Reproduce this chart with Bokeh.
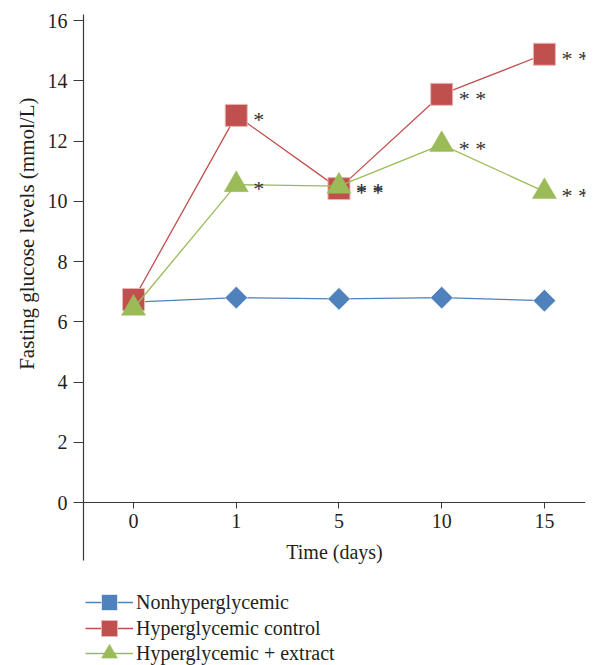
import math
from bokeh.plotting import figure
from bokeh.models import FixedTicker, Legend, LegendItem, ColumnDataSource, Title
from bokeh.embed import file_html
from bokeh.resources import INLINE

days = ["0", "1", "5", "10", "15"]
nonhyper = [6.65, 6.80, 6.76, 6.80, 6.70]
hyper_control = [6.74, 12.85, 10.42, 13.55, 14.88]
hyper_extract = [6.45, 10.55, 10.50, 11.88, 10.32]
control_sig = ["", "*", "* *", "* *", "* *"]
extract_sig = ["", "*", "* *", "* *", "* *"]
y_ticks = [0, 2, 4, 6, 8, 10, 12, 14, 16]
series_names = ["Nonhyperglycemic", "Hyperglycemic control", "Hyperglycemic + extract"]

FONT = "Liberation Serif"
TXT = "#231f20"
BLUE = "#4f81bd"
RED = "#c0504d"
GREEN = "#9bbb59"

xs = list(range(len(days)))

PX_PER_UNIT = 30.125
Y_TOP = 16.2
Y_BOTTOM = Y_TOP - (665 - 14) / PX_PER_UNIT
AXIS_LOW = -1.925

p = figure(width=598, height=665, output_backend="svg", toolbar_location=None,
           x_range=(-0.487, 4.40), y_range=(Y_BOTTOM, Y_TOP),
           min_border_left=83, min_border_right=13, min_border_top=14, min_border_bottom=0)
p.outline_line_color = None
p.xgrid.visible = False
p.ygrid.visible = False
p.background_fill_color = "white"
p.border_fill_color = "white"

# y axis
p.yaxis.ticker = FixedTicker(ticks=y_ticks)
p.yaxis.bounds = (AXIS_LOW, Y_TOP)
p.yaxis.major_label_text_font = FONT
p.yaxis.major_label_text_font_size = "20px"
p.yaxis.major_label_text_color = TXT
p.yaxis.major_label_standoff = 6
p.yaxis.major_tick_in = 0
p.yaxis.major_tick_out = 10
p.yaxis.minor_tick_in = 0
p.yaxis.minor_tick_out = 0
p.yaxis.axis_line_color = "#3a3a3a"
p.yaxis.major_tick_line_color = "#3a3a3a"
p.yaxis.axis_line_width = 1.2

ylab = Title(text="Fasting glucose levels (mmol/L)", align="right", offset=83,
             text_font=FONT, text_font_size="21px", text_font_style="normal",
             text_color=TXT, standoff=12)
p.add_layout(ylab, "left")

# x axis
p.xaxis.fixed_location = 0
p.xaxis.ticker = FixedTicker(ticks=xs)
p.xaxis.major_label_overrides = {i: d for i, d in zip(xs, days)}
p.xaxis.axis_label = "Time (days)"
p.xaxis.axis_label_text_font = FONT
p.xaxis.axis_label_text_font_style = "normal"
p.xaxis.axis_label_text_font_size = "20px"
p.xaxis.axis_label_text_color = TXT
p.xaxis.axis_label_standoff = 10
p.xaxis.major_label_text_font = FONT
p.xaxis.major_label_text_font_size = "20px"
p.xaxis.major_label_text_color = TXT
p.xaxis.major_tick_in = 0
p.xaxis.major_tick_out = 6
p.xaxis.minor_tick_out = 0
p.xaxis.axis_line_color = "#3a3a3a"
p.xaxis.major_tick_line_color = "#3a3a3a"
p.xaxis.axis_line_width = 1.2

src = ColumnDataSource(dict(x=xs, nonhyper=nonhyper, control=hyper_control, extract=hyper_extract,
                            csig=control_sig, esig=extract_sig))

l1 = p.line("x", "nonhyper", source=src, line_color=BLUE, line_width=1.3)
m1 = p.scatter("x", "nonhyper", source=src, marker="square", angle=math.pi / 4, size=16,
               fill_color=BLUE, line_color="white", line_width=0.6)
l2 = p.line("x", "control", source=src, line_color=RED, line_width=1.3)
m2 = p.scatter("x", "control", source=src, marker="square", size=22, fill_color=RED,
               line_color="#e8b5b4", line_width=1)
l3 = p.line("x", "extract", source=src, line_color=GREEN, line_width=1.3)
m3 = p.scatter("x", "extract", source=src, marker="triangle", size=24, fill_color=GREEN,
               line_color=GREEN, line_width=0.5)

p.text("x", "control", text="csig", source=src, x_offset=17, y_offset=4,
       text_font={"value": FONT}, text_font_size="22px", text_color="#333333",
       text_baseline="middle", text_align="left")
p.text("x", "extract", text="esig", source=src, x_offset=17, y_offset=4,
       text_font={"value": FONT}, text_font_size="22px", text_color="#333333",
       text_baseline="middle", text_align="left")

# one legend per row so the legend markers can be drawn large with tight rows
row_renderers = [[l1, m1], [l2, m2], [l3, m3]]
row_bottoms = [43, 17, -8]
for name, rends, yb in zip(series_names, row_renderers, row_bottoms):
    lg = Legend(items=[LegendItem(label=name, renderers=rends)], location=(2, yb))
    lg.label_text_font = FONT
    lg.label_text_font_size = "20px"
    lg.label_text_color = TXT
    lg.border_line_color = None
    lg.background_fill_alpha = 0
    lg.glyph_width = 48
    lg.glyph_height = 40
    lg.label_height = 20
    lg.spacing = 0
    lg.label_standoff = 3
    lg.padding = 0
    lg.margin = 0
    p.add_layout(lg, "center")

open("out.html", "w").write(file_html(p, INLINE))
